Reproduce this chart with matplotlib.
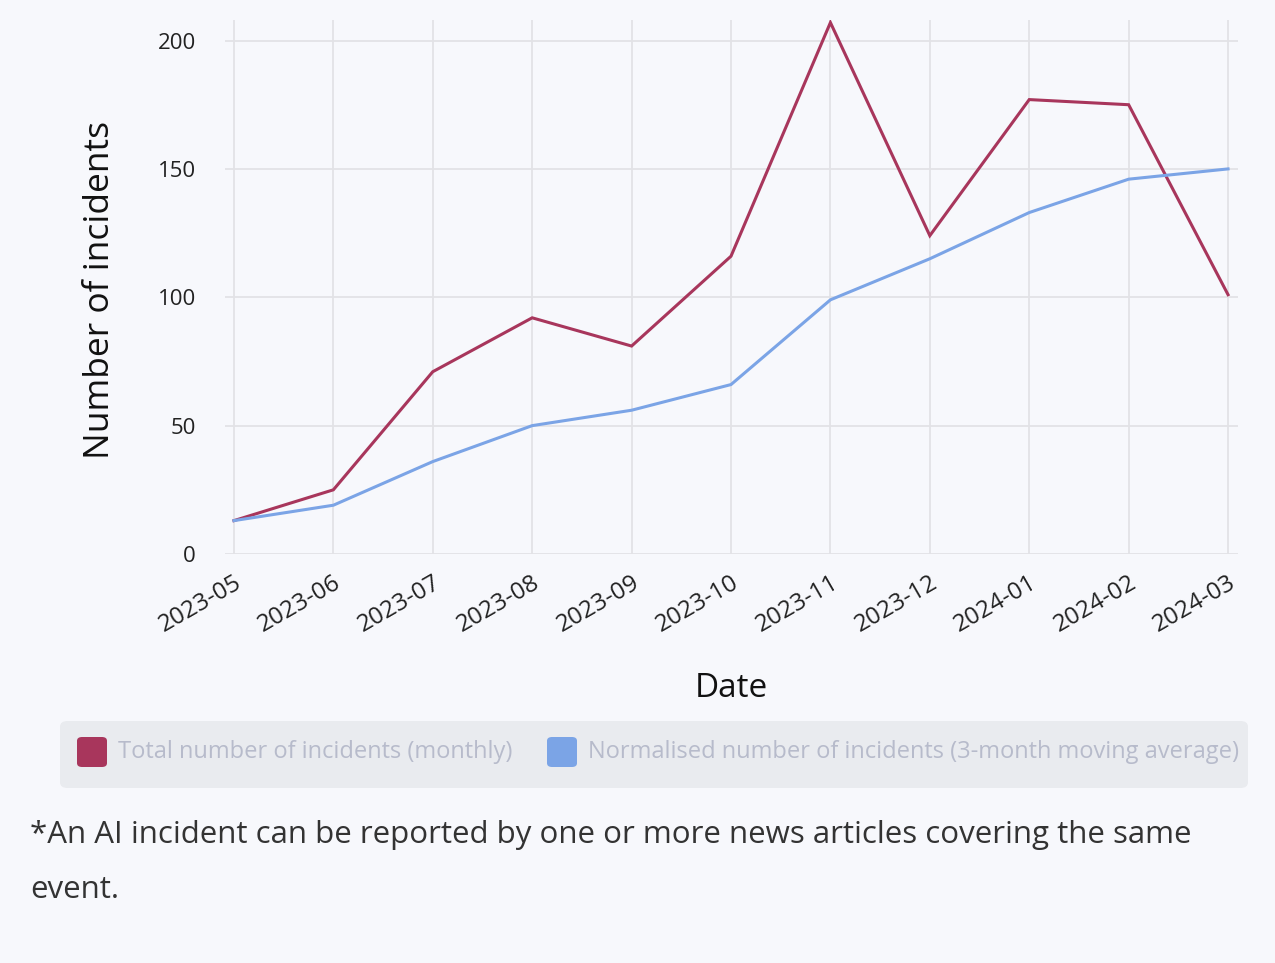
import matplotlib.pyplot as plt
from matplotlib.patches import FancyBboxPatch

months = ['2023-05', '2023-06', '2023-07', '2023-08', '2023-09', '2023-10',
          '2023-11', '2023-12', '2024-01', '2024-02', '2024-03']
total_monthly = [13, 25, 71, 92, 81, 116, 207, 124, 177, 175, 101]
moving_avg = [13, 19, 36, 50, 56, 66, 99, 115, 133, 146, 150]

red = '#a8365c'
blue = '#7ba4e6'
bg = '#f7f8fc'

W, H = 1275, 963
fig = plt.figure(figsize=(W / 100, H / 100), dpi=100, facecolor=bg)
plt.rcParams['font.family'] = ['Open Sans', 'DejaVu Sans']

ax = fig.add_axes([225 / W, (H - 554) / H, 1013 / W, 534 / H])
ax.set_facecolor(bg)
x = list(range(len(months)))
ax.plot(x, total_monthly, color=red, lw=2.2, solid_joinstyle='miter')
ax.plot(x, moving_avg, color=blue, lw=2.2, solid_joinstyle='miter')

ax.set_xlim(-0.09, 10.1)
ax.set_ylim(0, 208)
ax.set_yticks([0, 50, 100, 150, 200])
ax.set_xticks(x)
ax.set_xticklabels(months, rotation=30, ha='right', rotation_mode='anchor')
ax.tick_params(axis='both', length=0, colors='#222222')
ax.tick_params(axis='y', pad=21, labelsize=16)
ax.tick_params(axis='x', pad=12, labelsize=17.5)
ax.grid(True, color='#e2e2e6', lw=1.3)
ax.set_axisbelow(True)
for s in ax.spines.values():
    s.set_visible(False)

fig.text(100 / W, 1 - 290 / H, 'Number of incidents', rotation=90,
         ha='center', va='center', fontsize=25.5, color='#111111')
fig.text(731 / W, 1 - 688 / H, 'Date', ha='center', va='center',
         fontsize=24, color='#111111')

# legend box
box = FancyBboxPatch((60 / W, 1 - 788 / H), 1188 / W, 67 / H,
                     boxstyle='round,pad=0,rounding_size=0.006',
                     transform=fig.transFigure, facecolor='#e9ebef',
                     edgecolor='none')
fig.patches.append(box)
for x0, c, label in [(77, red, 'Total number of incidents (monthly)'),
                     (547, blue, 'Normalised number of incidents (3-month moving average)')]:
    sw = FancyBboxPatch((x0 / W, 1 - 767 / H), 30 / W, 30 / H,
                        boxstyle='round,pad=0,rounding_size=0.004',
                        transform=fig.transFigure, facecolor=c,
                        edgecolor='none')
    fig.patches.append(sw)
    fig.text((x0 + 41) / W, 1 - 752 / H, label, ha='left', va='center',
             fontsize=17, color='#b7bbcb')

fig.text(30 / W, 1 - 835 / H,
         '*An AI incident can be reported by one or more news articles covering the same',
         ha='left', va='center', fontsize=22.5, color='#333333')
fig.text(30 / W, 1 - 890 / H, 'event.', ha='left', va='center',
         fontsize=22.5, color='#333333')

fig.savefig('out.png', dpi=100, facecolor=bg)
